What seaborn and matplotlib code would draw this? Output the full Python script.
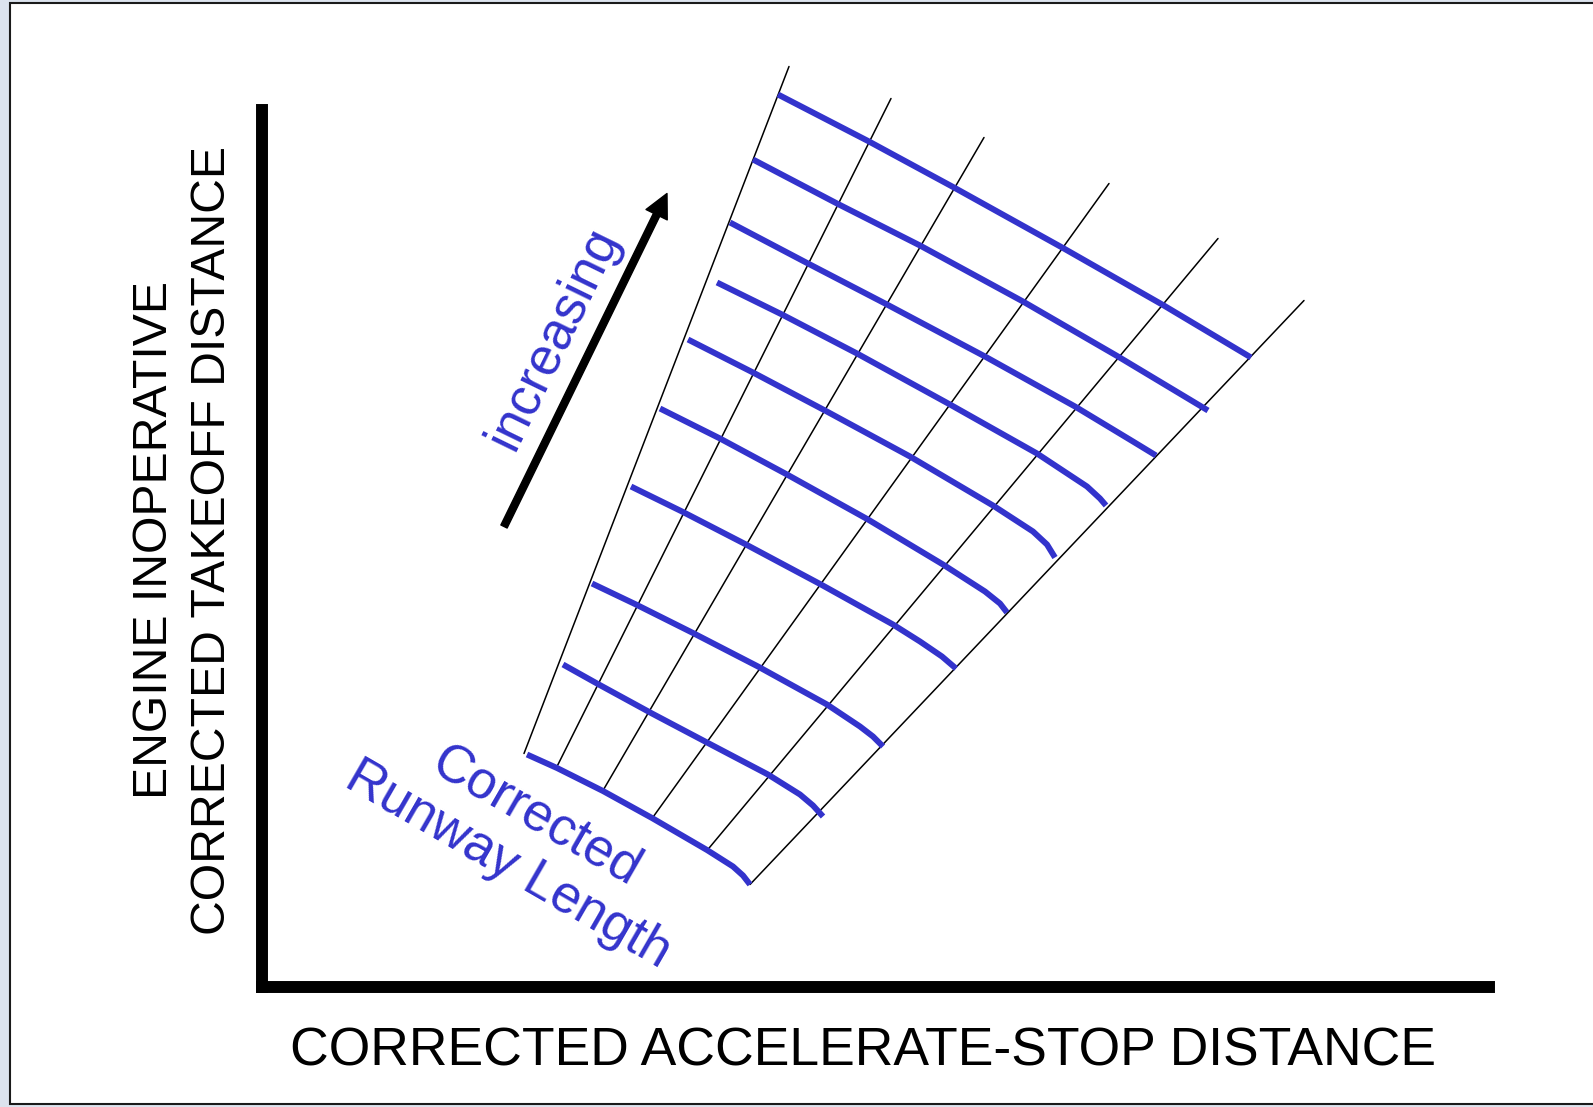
import matplotlib
matplotlib.use('Agg')
import matplotlib.pyplot as plt
from matplotlib.patches import Rectangle
import pandas as pd
import seaborn as sns

# thin black guide lines (start at the bottom, end at the top)
guide_x0 = [262, 295, 341, 390, 445, 488]
guide_y0 = [233, 220, 196, 168, 136, 102]
guide_x1 = [527, 629, 722, 847, 956, 1042]
guide_y1 = [920, 888, 849, 803, 748, 686]

# blue "corrected runway length" curves, top to bottom
runway_x = [
    [516, 607, 692, 801, 901, 989],
    [491, 575, 658, 761, 856, 946],
    [468, 546, 625, 723, 813, 871, 894],
    [455, 520, 595, 688, 775, 825, 838, 844],
    [426, 491, 563, 648, 731, 771, 785, 793],
    [398, 458, 525, 606, 681, 723, 738, 745],
    [369, 420, 484, 559, 631, 658, 680, 694],
    [330, 374, 431, 496, 565, 598, 611, 621],
    [301, 335, 390, 445, 506, 538, 551, 561],
    [265, 295, 341, 390, 445, 471, 481, 488],
]
runway_y = [
    [892, 845, 799, 738.5, 681.5, 629],
    [827, 783, 741, 685, 630, 576],
    [764, 723, 682, 630, 580, 545, 531],
    [704, 672, 633, 582, 533, 500, 488, 481],
    [647, 614, 576, 530, 481, 455, 442, 429],
    [578, 548, 512, 467, 422, 395, 383, 374],
    [500, 475, 442, 402, 362, 345, 330, 318],
    [403, 382, 353.5, 320, 282, 260, 250, 240],
    [322, 303, 273, 244, 212, 192, 181, 170],
    [232, 218.5, 195.5, 168.5, 136.5, 120, 111, 102],
]

arrow_tail = (242, 460)
arrow_tip = (405, 793)
arrow_label_pos = (292, 648)
curve_label_pos = (260, 146)

xlabel = 'CORRECTED ACCELERATE-STOP DISTANCE'
ylabel = 'ENGINE INOPERATIVE\nCORRECTED TAKEOFF DISTANCE'

BLUE = '#3333cc'

sns.set_style('white')
plt.rcParams['font.family'] = ['Liberation Sans', 'DejaVu Sans']

guides = pd.DataFrame({
    'line': [i for i in range(len(guide_x0)) for _ in range(2)],
    'x': [v for pair in zip(guide_x0, guide_x1) for v in pair],
    'y': [v for pair in zip(guide_y0, guide_y1) for v in pair],
})
curves = pd.DataFrame([
    {'curve': i, 'x': x, 'y': y}
    for i, (xs, ys) in enumerate(zip(runway_x, runway_y))
    for x, y in zip(xs, ys)
])

W, H = 1593, 1107
fig = plt.figure(figsize=(W / 100, H / 100), dpi=100, facecolor='#dce3ee')
fig.add_artist(Rectangle((10 / W, 3 / H), 1.0, 1101 / H, transform=fig.transFigure,
                         facecolor='white', edgecolor='#1a1a1a', lw=1.5, zorder=-1))

ax = fig.add_axes([262 / W, (H - 986.5) / H, 1227 / W, 876.5 / H])
ax.set_facecolor('none')

sns.lineplot(data=guides, x='x', y='y', units='line', estimator=None, sort=False,
             color='black', lw=1.1, ax=ax)
sns.lineplot(data=curves, x='x', y='y', units='curve', estimator=None, sort=False,
             color=BLUE, lw=4.3, solid_capstyle='butt', solid_joinstyle='round', ax=ax)
for line in ax.lines:
    line.set_clip_on(False)

ax.set_xlim(0, 1227)
ax.set_ylim(0, 876.5)

ax.annotate('', xy=arrow_tip, xytext=arrow_tail,
            arrowprops=dict(facecolor='black', edgecolor='black', width=5,
                            headwidth=17, headlength=17, shrink=0),
            annotation_clip=False)
ax.text(*arrow_label_pos, 'increasing', color=BLUE, fontsize=38, rotation=64,
        ha='center', va='center')
ax.text(*curve_label_pos, 'Corrected\nRunway Length', color=BLUE, fontsize=38,
        rotation=-30, ha='center', va='center', multialignment='center',
        linespacing=1.15)

for side in ['top', 'right']:
    ax.spines[side].set_visible(False)
for side in ['left', 'bottom']:
    ax.spines[side].set_linewidth(8.6)
    ax.spines[side].set_color('black')
    ax.spines[side].set_capstyle('projecting')

ax.set_xticks([])
ax.set_yticks([])
ax.set_xlabel(xlabel, fontsize=38.5, color='black')
ax.set_ylabel(ylabel, fontsize=34.7, color='black', linespacing=1.37)
ax.xaxis.label.set_va('center')
ax.yaxis.label.set_va('center')
ax.xaxis.set_label_coords(0.490, -0.0747)
ax.yaxis.set_label_coords(-0.064, 0.509)

fig.savefig('out.png', dpi=100, facecolor=fig.get_facecolor())
plt.close(fig)
